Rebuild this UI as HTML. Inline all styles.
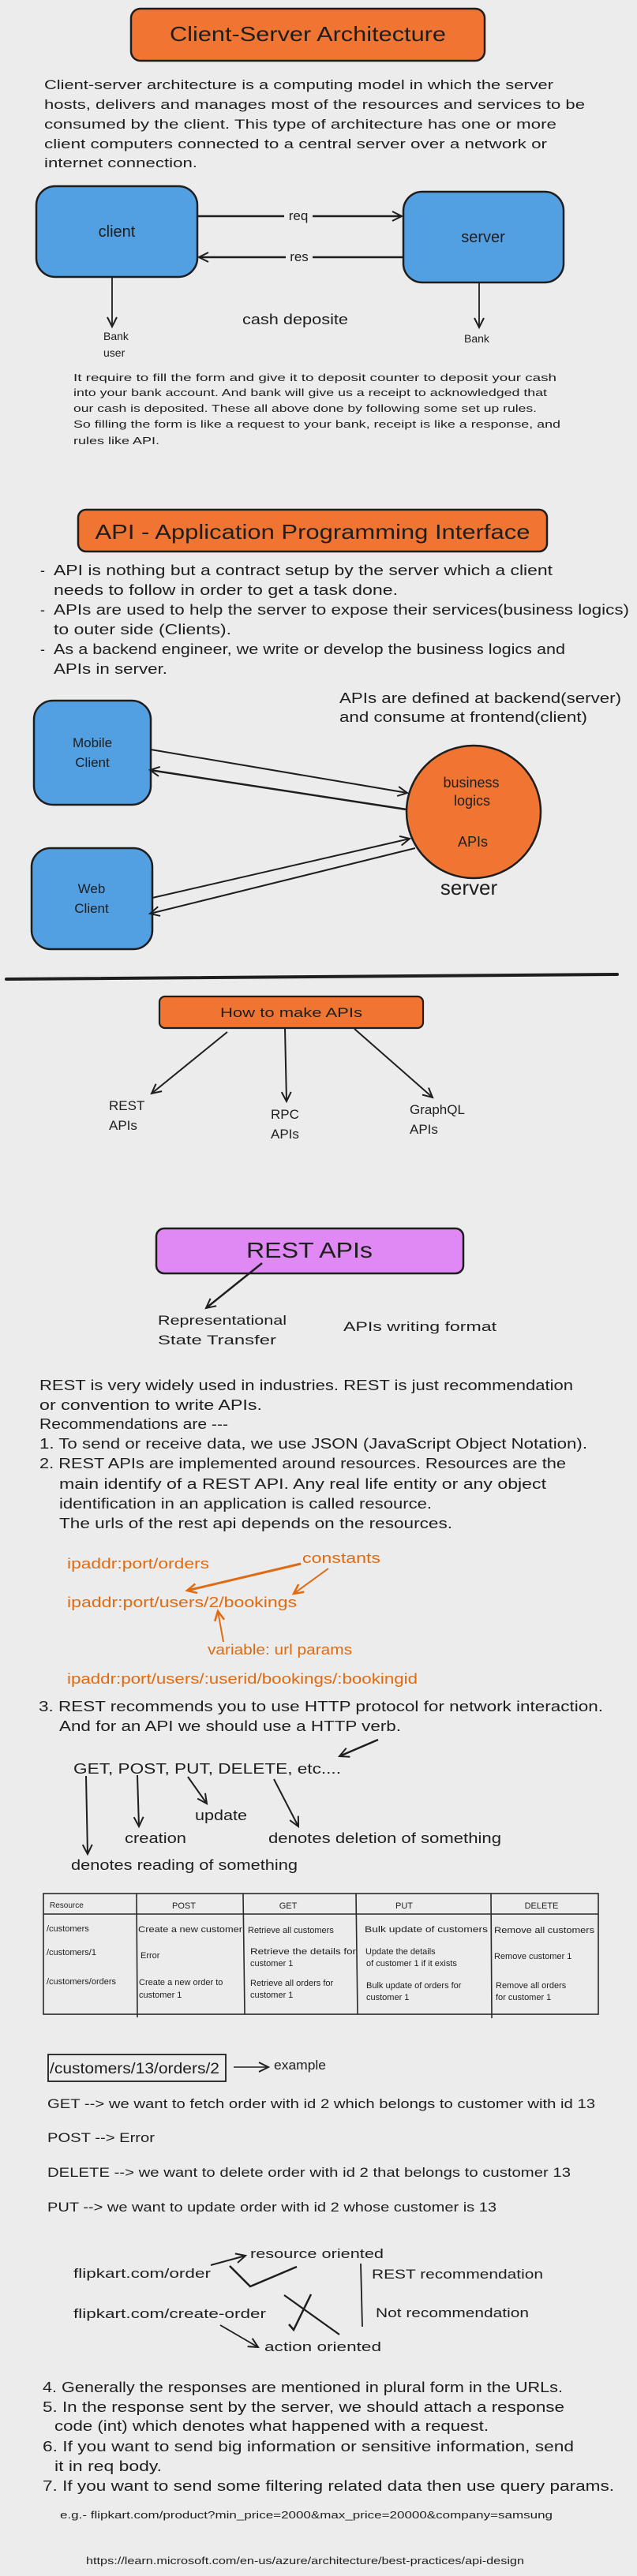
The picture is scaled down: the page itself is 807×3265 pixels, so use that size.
<!DOCTYPE html>
<html><head><meta charset="utf-8">
<style>
html,body{margin:0;padding:0;background:#ececec;}
svg{display:block;}
text{font-family:"Liberation Sans",sans-serif;fill:#1e1e1e;}
.o{fill:#e06a10;}
</style></head>
<body>
<svg width="807" height="3265" viewBox="0 0 807 3265" xmlns="http://www.w3.org/2000/svg">
<defs>
<marker id="a" markerUnits="userSpaceOnUse" markerWidth="16" markerHeight="16" refX="13" refY="8" orient="auto"><path d="M1,2 L13,8 L1,14" fill="none" stroke="#1e1e1e" stroke-width="2"/></marker>
<marker id="ao" markerUnits="userSpaceOnUse" markerWidth="16" markerHeight="16" refX="13" refY="8" orient="auto"><path d="M1,2 L13,8 L1,14" fill="none" stroke="#e06a10" stroke-width="2.5"/></marker>
</defs>
<rect width="807" height="3265" fill="#ececec"/>

<!-- Section 1 -->
<rect x="166" y="11" width="448" height="66" rx="12" fill="#f07532" stroke="#1e1e1e" stroke-width="2.5"/>
<text x="390" y="52" font-size="26" text-anchor="middle" textLength="350" lengthAdjust="spacingAndGlyphs">Client-Server Architecture</text>
<g font-size="17">
<text x="56" y="113" textLength="645" lengthAdjust="spacingAndGlyphs">Client-server architecture is a computing model in which the server</text>
<text x="56" y="138" textLength="685" lengthAdjust="spacingAndGlyphs">hosts, delivers and manages most of the resources and services to be</text>
<text x="56" y="163" textLength="649" lengthAdjust="spacingAndGlyphs">consumed by the client. This type of architecture has one or more</text>
<text x="56" y="188" textLength="637" lengthAdjust="spacingAndGlyphs">client computers connected to a central server over a network or</text>
<text x="56" y="212" textLength="194" lengthAdjust="spacingAndGlyphs">internet connection.</text>
</g>
<rect x="46" y="236" width="204" height="115" rx="24" fill="#529fe2" stroke="#1e1e1e" stroke-width="2.5"/>
<text x="148" y="300" font-size="20" text-anchor="middle">client</text>
<rect x="511" y="243" width="203" height="115" rx="24" fill="#529fe2" stroke="#1e1e1e" stroke-width="2.5"/>
<text x="612" y="307" font-size="20" text-anchor="middle">server</text>
<line x1="250" y1="274" x2="509" y2="274" stroke="#1e1e1e" stroke-width="2.5" marker-end="url(#a)"/>
<rect x="360" y="264" width="36" height="18" fill="#ececec"/>
<text x="378" y="279" font-size="17" text-anchor="middle">req</text>
<line x1="511" y1="326" x2="252" y2="326" stroke="#1e1e1e" stroke-width="2.5" marker-end="url(#a)"/>
<rect x="362" y="316" width="34" height="18" fill="#ececec"/>
<text x="379" y="331" font-size="17" text-anchor="middle">res</text>
<line x1="142" y1="351" x2="142" y2="414" stroke="#1e1e1e" stroke-width="1.8" marker-end="url(#a)"/>
<line x1="607" y1="358" x2="607" y2="415" stroke="#1e1e1e" stroke-width="1.8" marker-end="url(#a)"/>
<text x="131" y="431" font-size="14">Bank</text>
<text x="131" y="452" font-size="14">user</text>
<text x="588" y="434" font-size="14">Bank</text>
<text x="307" y="411" font-size="18" textLength="134" lengthAdjust="spacingAndGlyphs">cash deposite</text>
<g font-size="13">
<text x="93" y="483" textLength="612" lengthAdjust="spacingAndGlyphs">It require to fill the form and give it to deposit counter to deposit your cash</text>
<text x="93" y="502" textLength="600" lengthAdjust="spacingAndGlyphs">into your bank account. And bank will give us a receipt to acknowledged that</text>
<text x="93" y="522" textLength="587" lengthAdjust="spacingAndGlyphs">our cash is deposited. These all above done by following some set up rules.</text>
<text x="93" y="542" textLength="617" lengthAdjust="spacingAndGlyphs">So filling the form is like a request to your bank, receipt is like a response, and</text>
<text x="93" y="563" textLength="109" lengthAdjust="spacingAndGlyphs">rules like API.</text>
</g>

<!-- Section 2 -->
<rect x="99" y="646" width="594" height="53" rx="10" fill="#f07532" stroke="#1e1e1e" stroke-width="2.5"/>
<text x="396" y="683" font-size="26" text-anchor="middle" textLength="551" lengthAdjust="spacingAndGlyphs">API - Application Programming Interface</text>
<g font-size="18">
<text x="51" y="729">-</text><text x="68" y="729" textLength="632" lengthAdjust="spacingAndGlyphs">API is nothing but a contract setup by the server which a client</text>
<text x="68" y="754" textLength="436" lengthAdjust="spacingAndGlyphs">needs to follow in order to get a task done.</text>
<text x="51" y="779">-</text><text x="68" y="779" textLength="729" lengthAdjust="spacingAndGlyphs">APIs are used to help the server to expose their services(business logics)</text>
<text x="68" y="804" textLength="225" lengthAdjust="spacingAndGlyphs">to outer side (Clients).</text>
<text x="51" y="829">-</text><text x="68" y="829" textLength="648" lengthAdjust="spacingAndGlyphs">As a backend engineer, we write or develop the business logics and</text>
<text x="68" y="854" textLength="144" lengthAdjust="spacingAndGlyphs">APIs in server.</text>
<text x="430" y="891" textLength="357" lengthAdjust="spacingAndGlyphs">APIs are defined at backend(server)</text>
<text x="430" y="915" textLength="314" lengthAdjust="spacingAndGlyphs">and consume at frontend(client)</text>
</g>
<rect x="43" y="888" width="148" height="132" rx="24" fill="#529fe2" stroke="#1e1e1e" stroke-width="2.5"/>
<text x="117" y="947" font-size="17" text-anchor="middle">Mobile</text>
<text x="117" y="972" font-size="17" text-anchor="middle">Client</text>
<rect x="40" y="1075" width="153" height="128" rx="24" fill="#529fe2" stroke="#1e1e1e" stroke-width="2.5"/>
<text x="116" y="1132" font-size="17" text-anchor="middle">Web</text>
<text x="116" y="1157" font-size="17" text-anchor="middle">Client</text>
<ellipse cx="600" cy="1029" rx="85" ry="84" fill="#f07532" stroke="#1e1e1e" stroke-width="2.5"/>
<text x="597" y="998" font-size="18" text-anchor="middle">business</text>
<text x="598" y="1021" font-size="18" text-anchor="middle">logics</text>
<text x="599" y="1073" font-size="18" text-anchor="middle">APIs</text>
<text x="594" y="1134" font-size="26" text-anchor="middle">server</text>
<line x1="191" y1="950" x2="516" y2="1005" stroke="#1e1e1e" stroke-width="2" marker-end="url(#a)"/>
<line x1="515" y1="1026" x2="190" y2="976" stroke="#1e1e1e" stroke-width="2.5" marker-end="url(#a)"/>
<line x1="193" y1="1138" x2="519" y2="1063" stroke="#1e1e1e" stroke-width="2" marker-end="url(#a)"/>
<line x1="526" y1="1075" x2="190" y2="1158" stroke="#1e1e1e" stroke-width="2" marker-end="url(#a)"/>

<!-- Section 3 -->
<line x1="8" y1="1241" x2="782" y2="1235" stroke="#1e1e1e" stroke-width="4" stroke-linecap="round"/>
<rect x="202" y="1263" width="334" height="40" rx="7" fill="#f07532" stroke="#1e1e1e" stroke-width="2.2"/>
<text x="369" y="1289" font-size="17" text-anchor="middle" textLength="180" lengthAdjust="spacingAndGlyphs">How to make APIs</text>
<line x1="288" y1="1308" x2="192" y2="1386" stroke="#1e1e1e" stroke-width="2" marker-end="url(#a)"/>
<line x1="361" y1="1303" x2="363" y2="1396" stroke="#1e1e1e" stroke-width="2" marker-end="url(#a)"/>
<line x1="449" y1="1304" x2="548" y2="1391" stroke="#1e1e1e" stroke-width="2" marker-end="url(#a)"/>
<g font-size="17">
<text x="138" y="1407">REST</text><text x="138" y="1432">APIs</text>
<text x="343" y="1418">RPC</text><text x="343" y="1443">APIs</text>
<text x="519" y="1412">GraphQL</text><text x="519" y="1437">APIs</text>
</g>
<rect x="198" y="1557" width="389" height="57" rx="10" fill="#e088f4" stroke="#1e1e1e" stroke-width="2.5"/>
<text x="392" y="1594" font-size="28" text-anchor="middle" textLength="160" lengthAdjust="spacingAndGlyphs">REST APIs</text>
<line x1="332" y1="1601" x2="261" y2="1658" stroke="#1e1e1e" stroke-width="2.5" marker-end="url(#a)"/>
<g font-size="17">
<text x="200" y="1679" textLength="163" lengthAdjust="spacingAndGlyphs">Representational</text>
<text x="200" y="1704" textLength="150" lengthAdjust="spacingAndGlyphs">State Transfer</text>
<text x="435" y="1687" textLength="194" lengthAdjust="spacingAndGlyphs">APIs writing format</text>
</g>
<g font-size="18">
<text x="50" y="1762" textLength="676" lengthAdjust="spacingAndGlyphs">REST is very widely used in industries. REST is just recommendation</text>
<text x="50" y="1787" textLength="282" lengthAdjust="spacingAndGlyphs">or convention to write APIs.</text>
<text x="50" y="1811" textLength="239" lengthAdjust="spacingAndGlyphs">Recommendations are ---</text>
<text x="50" y="1836" textLength="694" lengthAdjust="spacingAndGlyphs">1. To send or receive data, we use JSON (JavaScript Object Notation).</text>
<text x="50" y="1861" textLength="667" lengthAdjust="spacingAndGlyphs">2. REST APIs are implemented around resources. Resources are the</text>
<text x="75" y="1887" textLength="617" lengthAdjust="spacingAndGlyphs">main identify of a REST API. Any real life entity or any object</text>
<text x="75" y="1912" textLength="472" lengthAdjust="spacingAndGlyphs">identification in an application is called resource.</text>
<text x="75" y="1937" textLength="498" lengthAdjust="spacingAndGlyphs">The urls of the rest api depends on the resources.</text>
</g>
<g font-size="18">
<text class="o" x="85" y="1988" textLength="180" lengthAdjust="spacingAndGlyphs">ipaddr:port/orders</text>
<text class="o" x="383" y="1981" textLength="99" lengthAdjust="spacingAndGlyphs">constants</text>
<text class="o" x="85" y="2037" textLength="291" lengthAdjust="spacingAndGlyphs">ipaddr:port/users/2/bookings</text>
<text class="o" x="263" y="2097" textLength="183" lengthAdjust="spacingAndGlyphs">variable: url params</text>
<text class="o" x="85" y="2134" textLength="444" lengthAdjust="spacingAndGlyphs">ipaddr:port/users/:userid/bookings/:bookingid</text>
</g>
<line x1="381" y1="1982" x2="237" y2="2016" stroke="#e06a10" stroke-width="3" marker-end="url(#ao)"/>
<line x1="416" y1="1988" x2="372" y2="2020" stroke="#e06a10" stroke-width="2" marker-end="url(#ao)"/>
<line x1="283" y1="2081" x2="276" y2="2042" stroke="#e06a10" stroke-width="2" marker-end="url(#ao)"/>
<g font-size="18">
<text x="49" y="2169" textLength="715" lengthAdjust="spacingAndGlyphs">3. REST recommends you to use HTTP protocol for network interaction.</text>
<text x="75" y="2194" textLength="433" lengthAdjust="spacingAndGlyphs">And for an API we should use a HTTP verb.</text>
<text x="93" y="2248" textLength="339" lengthAdjust="spacingAndGlyphs">GET, POST, PUT, DELETE, etc....</text>
<text x="247" y="2307" textLength="66" lengthAdjust="spacingAndGlyphs">update</text>
<text x="158" y="2336" textLength="78" lengthAdjust="spacingAndGlyphs">creation</text>
<text x="340" y="2336" textLength="295" lengthAdjust="spacingAndGlyphs">denotes deletion of something</text>
<text x="90" y="2370" textLength="287" lengthAdjust="spacingAndGlyphs">denotes reading of something</text>
</g>
<line x1="479" y1="2205" x2="430" y2="2226" stroke="#1e1e1e" stroke-width="2.5" marker-end="url(#a)"/>
<line x1="109" y1="2251" x2="111" y2="2350" stroke="#1e1e1e" stroke-width="2" marker-end="url(#a)"/>
<line x1="174" y1="2250" x2="176" y2="2315" stroke="#1e1e1e" stroke-width="2" marker-end="url(#a)"/>
<line x1="238" y1="2252" x2="262" y2="2286" stroke="#1e1e1e" stroke-width="2" marker-end="url(#a)"/>
<line x1="347" y1="2255" x2="378" y2="2315" stroke="#1e1e1e" stroke-width="2" marker-end="url(#a)"/>

<!-- Table -->
<g stroke="#2a2a2a" stroke-width="1.6" fill="none">
<rect x="55" y="2400" width="703" height="153"/>
<line x1="55" y1="2426" x2="758" y2="2426"/>
<line x1="173" y1="2400" x2="174" y2="2557"/>
<line x1="308" y1="2400" x2="310" y2="2553"/>
<line x1="451" y1="2400" x2="453" y2="2553"/>
<line x1="622" y1="2400" x2="623" y2="2558"/>
</g>
<g font-size="11" fill="#333">
<text x="63" y="2418" font-size="10">Resource</text>
<text x="233" y="2419" text-anchor="middle">POST</text>
<text x="365" y="2419" text-anchor="middle">GET</text>
<text x="512" y="2419" text-anchor="middle">PUT</text>
<text x="686" y="2419" text-anchor="middle">DELETE</text>
<text x="59" y="2448">/customers</text>
<text x="59" y="2478">/customers/1</text>
<text x="59" y="2515">/customers/orders</text>
<text x="175" y="2449" textLength="132" lengthAdjust="spacingAndGlyphs">Create a new customer</text>
<text x="178" y="2482">Error</text>
<text x="176" y="2516">Create a new order to</text>
<text x="176" y="2532">customer 1</text>
<text x="314" y="2450">Retrieve all customers</text>
<text x="317" y="2477" textLength="134" lengthAdjust="spacingAndGlyphs">Retrieve the details for</text>
<text x="317" y="2492">customer 1</text>
<text x="317" y="2517">Retrieve all orders for</text>
<text x="317" y="2532">customer 1</text>
<text x="462" y="2449" textLength="156" lengthAdjust="spacingAndGlyphs">Bulk update of customers</text>
<text x="463" y="2477">Update the details</text>
<text x="464" y="2492">of customer 1 if it exists</text>
<text x="464" y="2520">Bulk update of orders for</text>
<text x="464" y="2535">customer 1</text>
<text x="626" y="2450" textLength="127" lengthAdjust="spacingAndGlyphs">Remove all customers</text>
<text x="626" y="2483">Remove customer 1</text>
<text x="628" y="2520">Remove all orders</text>
<text x="628" y="2535">for customer 1</text>
</g>

<!-- Example -->
<rect x="61" y="2604" width="225" height="34" fill="none" stroke="#1e1e1e" stroke-width="1.8"/>
<text x="63" y="2628" font-size="19" textLength="215" lengthAdjust="spacingAndGlyphs">/customers/13/orders/2</text>
<line x1="296" y1="2620" x2="340" y2="2620" stroke="#1e1e1e" stroke-width="1.5" marker-end="url(#a)"/>
<text x="347" y="2623" font-size="17" textLength="66" lengthAdjust="spacingAndGlyphs">example</text>
<g font-size="17">
<text x="60" y="2672" textLength="694" lengthAdjust="spacingAndGlyphs">GET --&gt; we want to fetch order with id 2 which belongs to customer with id 13</text>
<text x="60" y="2715" textLength="136" lengthAdjust="spacingAndGlyphs">POST --&gt; Error</text>
<text x="60" y="2759" textLength="663" lengthAdjust="spacingAndGlyphs">DELETE --&gt; we want to delete order with id 2 that belongs to customer 13</text>
<text x="60" y="2803" textLength="569" lengthAdjust="spacingAndGlyphs">PUT --&gt; we want to update order with id 2 whose customer is 13</text>
<text x="317" y="2862" textLength="169" lengthAdjust="spacingAndGlyphs">resource oriented</text>
<text x="93" y="2887" textLength="174" lengthAdjust="spacingAndGlyphs">flipkart.com/order</text>
<text x="471" y="2888" textLength="217" lengthAdjust="spacingAndGlyphs">REST recommendation</text>
<text x="93" y="2938" textLength="244" lengthAdjust="spacingAndGlyphs">flipkart.com/create-order</text>
<text x="476" y="2937" textLength="194" lengthAdjust="spacingAndGlyphs">Not recommendation</text>
<text x="335" y="2980" textLength="148" lengthAdjust="spacingAndGlyphs">action oriented</text>
</g>
<line x1="267" y1="2871" x2="311" y2="2859" stroke="#1e1e1e" stroke-width="2" marker-end="url(#a)"/>
<path d="M291,2872 L317,2898 L376,2873" fill="none" stroke="#1e1e1e" stroke-width="2.5"/>
<line x1="457" y1="2869" x2="459" y2="2949" stroke="#1e1e1e" stroke-width="1.8"/>
<line x1="360" y1="2909" x2="430" y2="2959" stroke="#1e1e1e" stroke-width="2.2"/>
<path d="M394,2908 L372,2953 L366,2946" fill="none" stroke="#1e1e1e" stroke-width="2.5"/>
<line x1="279" y1="2947" x2="327" y2="2975" stroke="#1e1e1e" stroke-width="1.8" marker-end="url(#a)"/>
<g font-size="18">
<text x="54" y="3032" textLength="659" lengthAdjust="spacingAndGlyphs">4. Generally the responses are mentioned in plural form in the URLs.</text>
<text x="54" y="3057" textLength="661" lengthAdjust="spacingAndGlyphs">5. In the response sent by the server, we should attach a response</text>
<text x="69" y="3081" textLength="550" lengthAdjust="spacingAndGlyphs">code (int) which denotes what happened with a request.</text>
<text x="54" y="3107" textLength="673" lengthAdjust="spacingAndGlyphs">6. If you want to send big information or sensitive information, send</text>
<text x="69" y="3132" textLength="136" lengthAdjust="spacingAndGlyphs">it in req body.</text>
<text x="54" y="3157" textLength="724" lengthAdjust="spacingAndGlyphs">7. If you want to send some filtering related data then use query params.</text>
</g>
<text x="76" y="3192" font-size="13" textLength="624" lengthAdjust="spacingAndGlyphs">e.g.- flipkart.com/product?min_price=2000&amp;max_price=20000&amp;company=samsung</text>
<text x="109" y="3250" font-size="13" fill="#333" textLength="555" lengthAdjust="spacingAndGlyphs">https://learn.microsoft.com/en-us/azure/architecture/best-practices/api-design</text>
</svg>
</body></html>
